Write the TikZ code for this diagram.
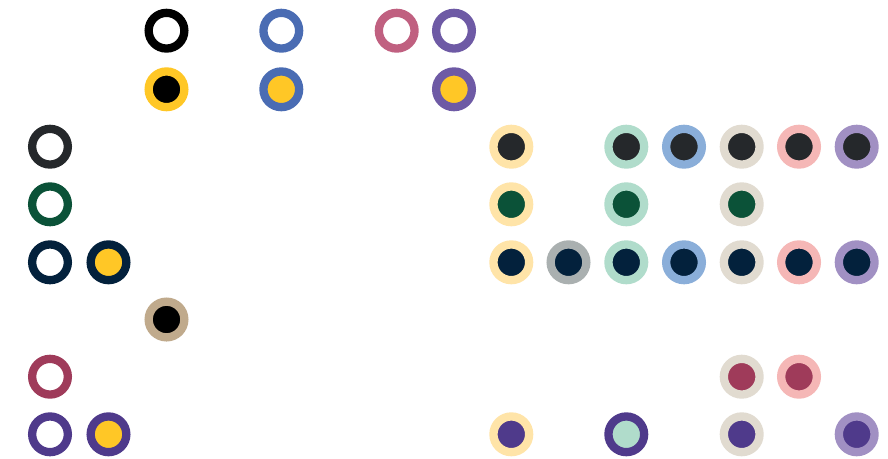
\documentclass[tikz,border=0pt]{standalone}
\definecolor{cBlack}{HTML}{000000}
\definecolor{cBlue}{HTML}{4A6CB3}
\definecolor{cPink}{HTML}{C06080}
\definecolor{cPurple}{HTML}{6E5AA5}
\definecolor{cYellow}{HTML}{FFC726}
\definecolor{cDark}{HTML}{25282B}
\definecolor{cGreen}{HTML}{0B5238}
\definecolor{cNavy}{HTML}{03213C}
\definecolor{cTan}{HTML}{C0AA8C}
\definecolor{cCrimson}{HTML}{9F3B5A}
\definecolor{cViolet}{HTML}{4F3A8B}
\definecolor{cLYellow}{HTML}{FFE4A8}
\definecolor{cGray}{HTML}{AAB0B0}
\definecolor{cMint}{HTML}{B0DCCB}
\definecolor{cLBlue}{HTML}{8AAED9}
\definecolor{cBeige}{HTML}{E1DBD0}
\definecolor{cLPink}{HTML}{F5B7B6}
\definecolor{cLav}{HTML}{A190C3}
\tikzset{dot/.style 2 args={circle, draw=#1, fill=#2, line width=8.3pt, minimum size=35.7pt, inner sep=0pt, outer sep=0pt}}
\begin{document}
\begin{tikzpicture}[x=1pt,y=-1pt]
\fill[white] (0,0) rectangle (888,458);
\useasboundingbox (0,0) rectangle (888,458);
% columns
\def\cA{50}\def\cB{108.5}\def\cC{166.5}\def\cE{281.3}\def\cG{396.7}\def\cH{454}
\def\cI{511.3}\def\cJ{568.5}\def\cK{626.3}\def\cL{684}\def\cM{741.7}\def\cN{799}\def\cO{856.7}
% rows
\def\rA{30.7}\def\rB{89.3}\def\rC{146.7}\def\rD{204.3}\def\rE{262.3}\def\rF{319.5}\def\rG{376.7}\def\rH{434.3}
% row 0
\node[dot={cBlack}{white}] (r0c2) at (\cC,\rA) {};
\node[dot={cBlue}{white}] (r0c4) at (\cE,\rA) {};
\node[dot={cPink}{white}] (r0c6) at (\cG,\rA) {};
\node[dot={cPurple}{white}] (r0c7) at (\cH,\rA) {};
% row 1
\node[dot={cYellow}{cBlack}] (r1c2) at (\cC,\rB) {};
\node[dot={cBlue}{cYellow}] (r1c4) at (\cE,\rB) {};
\node[dot={cPurple}{cYellow}] (r1c7) at (\cH,\rB) {};
% row 2
\node[dot={cDark}{white}] (r2c0) at (\cA,\rC) {};
\node[dot={cLYellow}{cDark}] (r2c8) at (\cI,\rC) {};
\node[dot={cMint}{cDark}] (r2c10) at (\cK,\rC) {};
\node[dot={cLBlue}{cDark}] (r2c11) at (\cL,\rC) {};
\node[dot={cBeige}{cDark}] (r2c12) at (\cM,\rC) {};
\node[dot={cLPink}{cDark}] (r2c13) at (\cN,\rC) {};
\node[dot={cLav}{cDark}] (r2c14) at (\cO,\rC) {};
% row 3
\node[dot={cGreen}{white}] (r3c0) at (\cA,\rD) {};
\node[dot={cLYellow}{cGreen}] (r3c8) at (\cI,\rD) {};
\node[dot={cMint}{cGreen}] (r3c10) at (\cK,\rD) {};
\node[dot={cBeige}{cGreen}] (r3c12) at (\cM,\rD) {};
% row 4
\node[dot={cNavy}{white}] (r4c0) at (\cA,\rE) {};
\node[dot={cNavy}{cYellow}] (r4c1) at (\cB,\rE) {};
\node[dot={cLYellow}{cNavy}] (r4c8) at (\cI,\rE) {};
\node[dot={cGray}{cNavy}] (r4c9) at (\cJ,\rE) {};
\node[dot={cMint}{cNavy}] (r4c10) at (\cK,\rE) {};
\node[dot={cLBlue}{cNavy}] (r4c11) at (\cL,\rE) {};
\node[dot={cBeige}{cNavy}] (r4c12) at (\cM,\rE) {};
\node[dot={cLPink}{cNavy}] (r4c13) at (\cN,\rE) {};
\node[dot={cLav}{cNavy}] (r4c14) at (\cO,\rE) {};
% row 5
\node[dot={cTan}{cBlack}] (r5c2) at (\cC,\rF) {};
% row 6
\node[dot={cCrimson}{white}] (r6c0) at (\cA,\rG) {};
\node[dot={cBeige}{cCrimson}] (r6c12) at (\cM,\rG) {};
\node[dot={cLPink}{cCrimson}] (r6c13) at (\cN,\rG) {};
% row 7
\node[dot={cViolet}{white}] (r7c0) at (\cA,\rH) {};
\node[dot={cViolet}{cYellow}] (r7c1) at (\cB,\rH) {};
\node[dot={cLYellow}{cViolet}] (r7c8) at (\cI,\rH) {};
\node[dot={cViolet}{cMint}] (r7c10) at (\cK,\rH) {};
\node[dot={cBeige}{cViolet}] (r7c12) at (\cM,\rH) {};
\node[dot={cLav}{cViolet}] (r7c14) at (\cO,\rH) {};
\end{tikzpicture}
\end{document}
